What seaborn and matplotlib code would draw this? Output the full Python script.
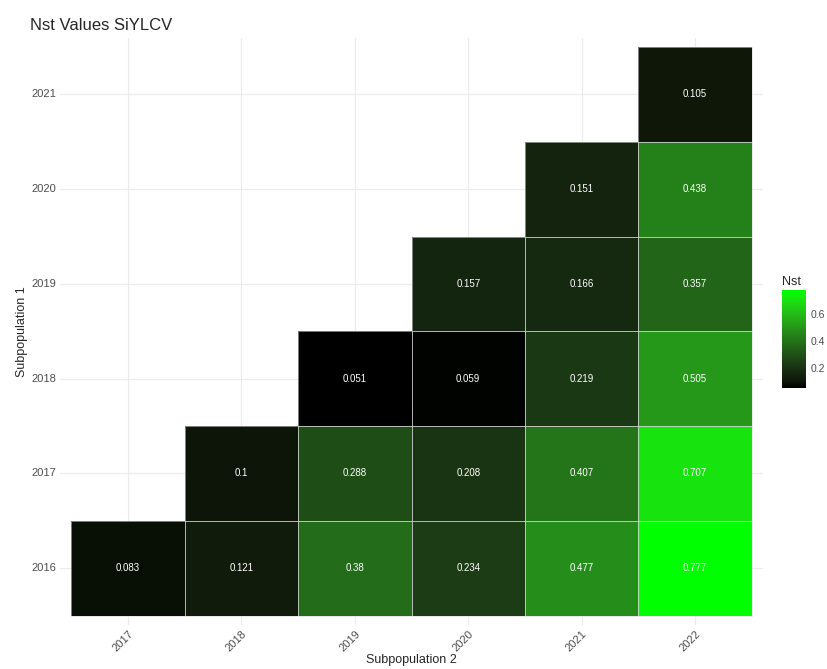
import numpy as np
import pandas as pd
import seaborn as sns
import matplotlib.pyplot as plt
from matplotlib.colors import ListedColormap
from matplotlib.patches import Rectangle

# -------- data --------
sub2 = ['2017', '2018', '2019', '2020', '2021', '2022']   # x axis
sub1 = ['2021', '2020', '2019', '2018', '2017', '2016']   # y axis, top to bottom
row_2021 = [np.nan, np.nan, np.nan, np.nan, np.nan, 0.105]
row_2020 = [np.nan, np.nan, np.nan, np.nan, 0.151, 0.438]
row_2019 = [np.nan, np.nan, np.nan, 0.157, 0.166, 0.357]
row_2018 = [np.nan, np.nan, 0.051, 0.059, 0.219, 0.505]
row_2017 = [np.nan, 0.1, 0.288, 0.208, 0.407, 0.707]
row_2016 = [0.083, 0.121, 0.38, 0.234, 0.477, 0.777]

df = pd.DataFrame([row_2021, row_2020, row_2019, row_2018, row_2017, row_2016],
                  index=sub1, columns=sub2)
labels = df.map(lambda v: '' if np.isnan(v) else f'{v:g}')


# -------- black -> green gradient interpolated in Lab (like ggplot) --------
def lab_to_rgb(L, a, b):
    fy = (L + 16) / 116
    fx = fy + a / 500
    fz = fy - b / 200
    def finv(t):
        return np.where(t > 6 / 29, t ** 3, 3 * (6 / 29) ** 2 * (t - 4 / 29))
    X, Y, Z = 0.95047 * finv(fx), finv(fy), 1.08883 * finv(fz)
    r = 3.2406 * X - 1.5372 * Y - 0.4986 * Z
    g = -0.9689 * X + 1.8758 * Y + 0.0415 * Z
    bl = 0.0557 * X - 0.2040 * Y + 1.0570 * Z
    rgb = np.clip(np.stack([r, g, bl], axis=1), 0, 1)
    return np.where(rgb > 0.0031308, 1.055 * rgb ** (1 / 2.4) - 0.055, 12.92 * rgb)

t = np.linspace(0, 1, 256)
cmap = ListedColormap(lab_to_rgb(87.73 * t, -86.18 * t, 83.18 * t))

# -------- plot --------
sns.set_style('white')
plt.rcParams['font.family'] = ['Liberation Sans', 'DejaVu Sans']

fig = plt.figure(figsize=(8.27, 6.69), dpi=100)
ax = fig.add_axes([0.0726, 0.0658, 0.85, 0.878])
cax = fig.add_axes([0.9456, 0.42, 0.029, 0.146])

vmin, vmax = np.nanmin(df.values), np.nanmax(df.values)
sns.heatmap(df, ax=ax, cmap=cmap, vmin=vmin, vmax=vmax, annot=labels, fmt='',
            annot_kws={'color': 'white', 'fontsize': 7},
            linewidths=0, cbar_ax=cax)

# thin light borders only around filled tiles
for i in range(len(sub1)):
    for j in range(len(sub2)):
        if not np.isnan(df.iat[i, j]):
            ax.add_patch(Rectangle((j, i), 1, 1, fill=False,
                                   edgecolor='#d9d9d9', linewidth=0.4))

ax.set_xlim(-0.1, 6.1)
ax.set_ylim(6.1, -0.1)
ax.set_axisbelow(True)
ax.grid(True, color='#ebebeb', linewidth=0.8)
for s in ax.spines.values():
    s.set_visible(False)
ax.tick_params(axis='both', length=0, colors='#4d4d4d', labelsize=8, pad=3)
plt.setp(ax.get_xticklabels(), rotation=45, ha='right', rotation_mode='anchor')
plt.setp(ax.get_yticklabels(), rotation=0)
ax.set_xlabel('Subpopulation 2', fontsize=9, labelpad=0)
ax.set_ylabel('Subpopulation 1', fontsize=9, labelpad=2)
fig.text(0.036, 0.955, 'Nst Values SiYLCV', fontsize=12)

cax.set_yticks([0.2, 0.4, 0.6])
cax.tick_params(length=4, colors='#4d4d4d', labelsize=7.5, direction='in')
cax.tick_params(axis='y', which='both', color='white')
for s in cax.spines.values():
    s.set_visible(False)
cax.set_title('Nst', fontsize=9, loc='left', pad=4)

fig.savefig('out.png', dpi=100)
